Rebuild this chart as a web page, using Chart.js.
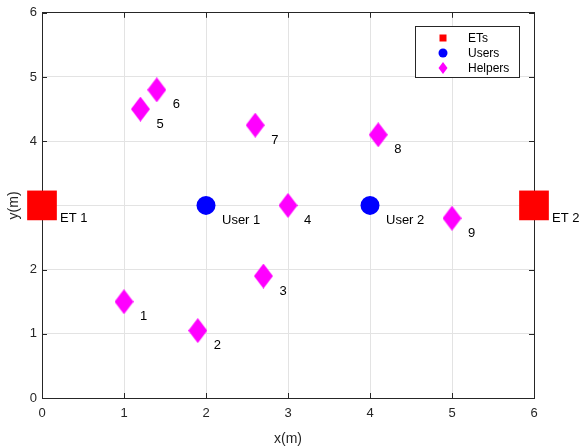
<!DOCTYPE html>
<html>
<head>
<meta charset="utf-8">
<script src="https://cdn.jsdelivr.net/npm/chart.js@4"></script>
<style>
  html, body { margin:0; padding:0; background:#fff; }
  #wrap { width:586px; height:446px; position:relative; }
</style>
</head>
<body>
<div id="wrap"><canvas id="plot" width="586" height="446"></canvas></div>
<script>
// data
const etX = [0, 6];
const etY = [3, 3];
const etNames = ['ET 1', 'ET 2'];
const userX = [2, 4];
const userY = [3, 3];
const userNames = ['User 1', 'User 2'];
const helperX = [1, 1.9, 2.7, 3, 1.2, 1.4, 2.6, 4.1, 5];
const helperY = [1.5, 1.05, 1.9, 3, 4.5, 4.8, 4.25, 4.1, 2.8];
const helperNames = ['1','2','3','4','5','6','7','8','9'];
const xTicks = [0,1,2,3,4,5,6];
const yTicks = [0,1,2,3,4,5,6];

const FONT = '"Liberation Sans", Arial, sans-serif';
const AXIS = '#262626';

function diamond(w, h) {
  const c = document.createElement('canvas');
  c.width = w; c.height = h;
  const g = c.getContext('2d');
  g.fillStyle = '#ff00ff';
  g.beginPath();
  g.moveTo(w/2, 0); g.lineTo(w, h/2); g.lineTo(w/2, h); g.lineTo(0, h/2);
  g.closePath(); g.fill();
  return c;
}
const bigDiamond = diamond(19, 25);

const zip = (xs, ys) => xs.map((x, i) => ({x, y: ys[i]}));

const labelsPlugin = {
  id: 'pointLabels',
  beforeDatasetsDraw(chart) {
    // short inward tick marks on all four sides
    const {ctx, chartArea:a} = chart;
    const x = chart.scales.x, y = chart.scales.y;
    ctx.save();
    ctx.strokeStyle = AXIS;
    ctx.lineWidth = 1;
    ctx.beginPath();
    xTicks.forEach(v => {
      const px = Math.round(x.getPixelForValue(v)) + 0.5;
      ctx.moveTo(px, a.bottom); ctx.lineTo(px, a.bottom - 5);
      ctx.moveTo(px, a.top); ctx.lineTo(px, a.top + 5);
    });
    yTicks.forEach(v => {
      const py = Math.round(y.getPixelForValue(v)) + 0.5;
      ctx.moveTo(a.left, py); ctx.lineTo(a.left + 5, py);
      ctx.moveTo(a.right, py); ctx.lineTo(a.right - 5, py);
    });
    ctx.stroke();
    ctx.restore();
  },
  afterDatasetsDraw(chart) {
    const {ctx} = chart;
    const x = chart.scales.x, y = chart.scales.y;
    ctx.save();
    ctx.fillStyle = '#000';
    ctx.font = '13px ' + FONT;
    ctx.textBaseline = 'middle';
    ctx.textAlign = 'left';
    const put = (xs, ys, names, dx, dy) => names.forEach((n, i) => {
      ctx.fillText(n, x.getPixelForValue(xs[i]) + dx, y.getPixelForValue(ys[i]) + dy);
    });
    put(etX, etY, etNames, 18, 13);
    put(userX, userY, userNames, 16, 15);
    put(helperX, helperY, helperNames, 16, 15);
    ctx.restore();
  },
  afterDraw(chart) {
    // legend box in the upper right corner
    const {ctx, chartArea:a} = chart;
    const bx = Math.round(a.right) - 119, by = Math.round(a.top) + 13, bw = 104, bh = 51;
    ctx.save();
    ctx.fillStyle = '#fff';
    ctx.fillRect(bx, by, bw, bh);
    ctx.strokeStyle = AXIS;
    ctx.lineWidth = 1;
    ctx.strokeRect(bx + 0.5, by + 0.5, bw, bh);
    const rows = [by + 12, by + 27, by + 42];
    const ix = bx + 28;
    ctx.fillStyle = '#ff0000';
    ctx.fillRect(ix - 3.5, rows[0] - 3.5, 7, 7);
    ctx.fillStyle = '#0000ff';
    ctx.beginPath(); ctx.arc(ix, rows[1], 4.5, 0, Math.PI*2); ctx.fill();
    ctx.fillStyle = '#ff00ff';
    ctx.beginPath();
    ctx.moveTo(ix, rows[2]-6); ctx.lineTo(ix+4.5, rows[2]); ctx.lineTo(ix, rows[2]+6); ctx.lineTo(ix-4.5, rows[2]);
    ctx.closePath(); ctx.fill();
    ctx.fillStyle = '#000';
    ctx.font = '12px ' + FONT;
    ctx.textBaseline = 'middle';
    ctx.textAlign = 'left';
    ['ETs', 'Users', 'Helpers'].forEach((t, i) => ctx.fillText(t, bx + 53, rows[i] + 1));
    ctx.restore();
  }
};

const fixTicks = list => s => { s.ticks = list.map(v => ({value: v})); };

new Chart(document.getElementById('plot'), {
  type: 'scatter',
  data: {
    datasets: [
      { label: 'ETs', data: zip(etX, etY), pointStyle: 'rect', pointRadius: 21, pointHoverRadius: 21,
        backgroundColor: '#ff0000', borderWidth: 0, clip: false },
      { label: 'Users', data: zip(userX, userY), pointStyle: 'circle', pointRadius: 9.5, pointHoverRadius: 9.5,
        backgroundColor: '#0000ff', borderWidth: 0, clip: false },
      { label: 'Helpers', data: zip(helperX, helperY), pointStyle: bigDiamond, pointRadius: 12,
        backgroundColor: '#ff00ff', borderWidth: 0, clip: false }
    ]
  },
  options: {
    responsive: false,
    animation: false,
    devicePixelRatio: 1,
    layout: { autoPadding: false, padding: { top: 0, right: 0, left: 2, bottom: 0 } },
    scales: {
      x: {
        type: 'linear', position: 'bottom', min: 0, max: 6,
        afterBuildTicks: fixTicks(xTicks),
        afterFit: s => { s.height = 48; },
        grid: { color: '#e3e3e3', drawTicks: false },
        border: { display: true, color: AXIS, width: 1 },
        ticks: { color: AXIS, font: { family: FONT, size: 13 }, padding: 8 },
        title: { display: true, text: 'x(m)', color: AXIS, font: { family: FONT, size: 14 }, padding: { top: 0, bottom: -2 } }
      },
      x2: {
        type: 'linear', position: 'top', min: 0, max: 6,
        afterBuildTicks: fixTicks(xTicks),
        afterFit: s => { s.height = 12; },
        grid: { drawOnChartArea: false, drawTicks: false },
        border: { display: true, color: AXIS, width: 1 },
        ticks: { display: false }
      },
      y: {
        type: 'linear', position: 'left', min: 0, max: 6,
        afterBuildTicks: fixTicks(yTicks),
        afterFit: s => { s.width = 40; },
        grid: { color: '#e3e3e3', drawTicks: false },
        border: { display: true, color: AXIS, width: 1 },
        ticks: { color: AXIS, font: { family: FONT, size: 13 }, padding: 5 },
        title: { display: true, text: 'y(m)', color: AXIS, font: { family: FONT, size: 14 }, padding: { bottom: 0 } }
      },
      y2: {
        type: 'linear', position: 'right', min: 0, max: 6,
        afterBuildTicks: fixTicks(yTicks),
        afterFit: s => { s.width = 52; },
        grid: { drawOnChartArea: false, drawTicks: false },
        border: { display: true, color: AXIS, width: 1 },
        ticks: { display: false }
      }
    },
    plugins: { legend: { display: false }, tooltip: { enabled: false } }
  },
  plugins: [labelsPlugin]
});
</script>
</body>
</html>
